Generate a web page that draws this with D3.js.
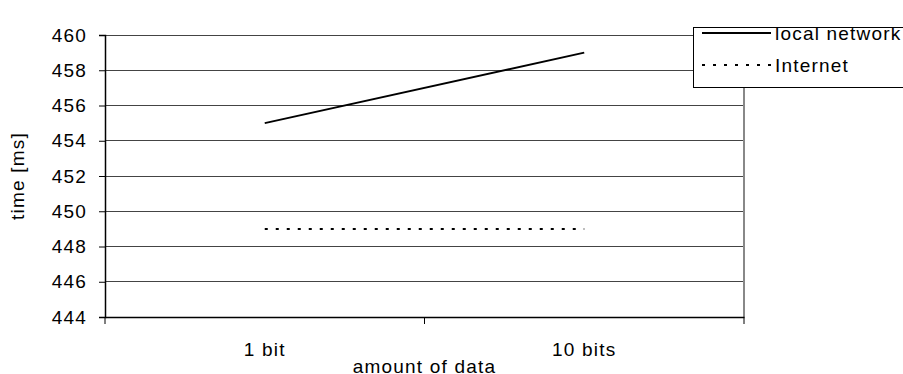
<!DOCTYPE html>
<html><head><meta charset="utf-8">
<script src="https://cdn.jsdelivr.net/npm/d3@7"></script>
<style>body{margin:0;background:#fff;} svg{display:block;font-family:"Liberation Sans",Arial,sans-serif;}</style>
</head><body><svg id="c" width="903" height="374"></svg>
<script>
const categories = ["1 bit", "10 bits"];
const seriesNames = ["local network", "Internet"];
const localNetwork = [455, 459];
const internet = [449, 449];
const yTicks = [444, 446, 448, 450, 452, 454, 456, 458, 460];

const svg = d3.select("#c");
const L = 105, T = 35, R = 744, B = 317;
const x = d3.scaleBand().domain(categories).range([L, R]);
const y = d3.scaleLinear().domain([444, 460]).range([B, T]);
const fs = 19, ls = "1.2px";

// gridlines
svg.append("g").selectAll("line").data(yTicks.filter(d => d !== 444)).join("line")
  .attr("x1", L).attr("x2", R).attr("y1", d => y(d)).attr("y2", d => y(d))
  .attr("stroke", "#444").attr("stroke-width", 1).attr("shape-rendering", "crispEdges");
// right border
svg.append("line").attr("x1", R).attr("x2", R).attr("y1", T).attr("y2", B)
  .attr("stroke", "#888").attr("stroke-width", 1.5).attr("shape-rendering", "crispEdges");

// y axis
const ya = svg.append("g").attr("transform", `translate(${L},0)`)
  .call(d3.axisLeft(y).tickValues(yTicks).tickSize(6).tickPadding(12).tickFormat(d3.format("d")));
ya.select(".domain").attr("stroke", "#000").attr("stroke-width", 1.5);
ya.selectAll(".tick line").attr("stroke", "#000");
ya.selectAll("text").attr("font-size", fs).attr("letter-spacing", ls)
  .attr("font-family", "Liberation Sans, Arial").attr("fill", "#000");

// x axis
const xa = svg.append("g").attr("transform", `translate(0,${B})`)
  .call(d3.axisBottom(x).tickSize(0).tickPadding(26));
xa.select(".domain").attr("stroke", "#000").attr("stroke-width", 1.5);
xa.selectAll("text").attr("font-size", fs).attr("letter-spacing", ls)
  .attr("font-family", "Liberation Sans, Arial").attr("fill", "#000");
const bounds = [L, ...categories.slice(1).map(c => x(c)), R];
svg.append("g").selectAll("line").data(bounds).join("line")
  .attr("x1", d => d).attr("x2", d => d).attr("y1", B).attr("y2", B + 7)
  .attr("stroke", "#000").attr("stroke-width", 1);

const cx = c => x(c) + x.bandwidth() / 2;
const line = vals => d3.line().x((d, i) => cx(categories[i])).y(d => y(d))(vals);

svg.append("path").attr("d", line(localNetwork)).attr("fill", "none")
  .attr("stroke", "#000").attr("stroke-width", 2);
svg.append("path").attr("d", line(internet)).attr("fill", "none")
  .attr("stroke", "#000").attr("stroke-width", 2).attr("stroke-dasharray", "3,8");

// axis titles
svg.append("text").attr("x", (L + R) / 2).attr("y", 373).attr("text-anchor", "middle")
  .attr("font-size", fs).attr("letter-spacing", ls).text("amount of data");
svg.append("text").attr("transform", `translate(24,${(T + B) / 2}) rotate(-90)`)
  .attr("text-anchor", "middle").attr("font-size", fs).attr("letter-spacing", ls).text("time [ms]");

// legend
const lg = svg.append("g");
lg.append("rect").attr("x", 693.5).attr("y", 27.5).attr("width", 220).attr("height", 60)
  .attr("fill", "#fff").attr("stroke", "#000").attr("stroke-width", 1);
const items = [{name: seriesNames[0], dash: null, y: 33}, {name: seriesNames[1], dash: "3,8", y: 65}];
items.forEach(it => {
  lg.append("line").attr("x1", 702).attr("x2", 771).attr("y1", it.y).attr("y2", it.y)
    .attr("stroke", "#000").attr("stroke-width", 2).attr("stroke-dasharray", it.dash);
  lg.append("text").attr("x", 775).attr("y", it.y + 7).attr("font-size", fs)
    .attr("letter-spacing", ls).text(it.name);
});
</script></body></html>
